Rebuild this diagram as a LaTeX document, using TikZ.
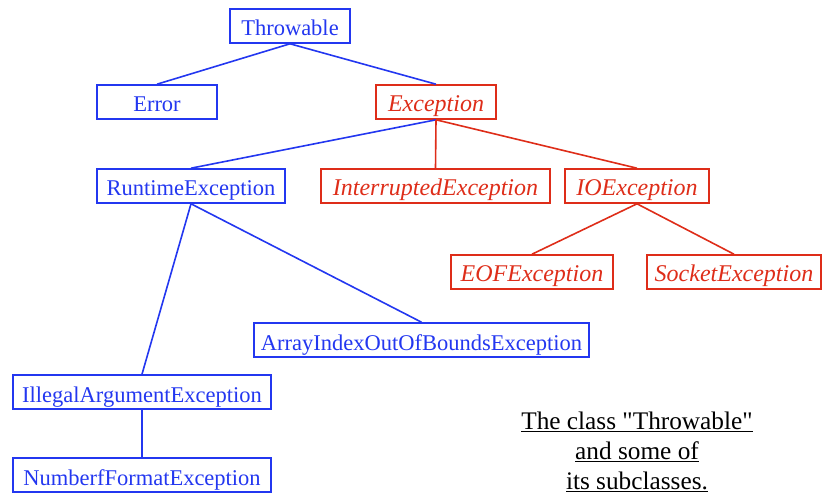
\documentclass[tikz,border=0pt]{standalone}
\usepackage{fontspec}
\setmainfont{Liberation Serif}
\definecolor{jblue}{RGB}{35,55,240}
\definecolor{jred}{RGB}{222,45,25}
\begin{document}
\begin{tikzpicture}[x=1pt,y=-1pt,
  cls/.style={draw, line width=1.6pt, inner sep=0pt, minimum height=34pt,
    text height=20pt, text depth=0pt,
    font=\fontsize{22.5}{26}\selectfont, anchor=center},
  bcls/.style={cls, draw=jblue, text=jblue},
  rcls/.style={cls, draw=jred, text=jred, font=\fontsize{24}{28}\selectfont\itshape},
  bl/.style={draw=jblue, line width=1.6pt},
  rl/.style={draw=jred, line width=1.6pt}]
\useasboundingbox (0,0) rectangle (822,494);
\node[bcls, minimum width=120pt] (thr) at (290,26) {Throwable};
\node[bcls, minimum width=120pt] (err) at (157,102) {Error};
\node[rcls, minimum width=120pt] (exc) at (436,102) {Exception};
\node[bcls, minimum width=188pt] (rte) at (191,186) {RuntimeException};
\node[rcls, minimum width=229pt] (int) at (435.5,186) {InterruptedException};
\node[rcls, minimum width=144pt] (ioe) at (637,186) {IOException};
\node[rcls, minimum width=162pt] (eof) at (532,272) {EOFException};
\node[rcls, minimum width=174pt] (soc) at (734,272) {SocketException};
\node[bcls, minimum width=335pt] (aio) at (421.5,340) {ArrayIndexOutOfBoundsException};
\node[bcls, minimum width=258pt] (iae) at (142,392) {IllegalArgumentException};
\node[bcls, minimum width=258pt] (nfe) at (142,475) {NumberfFormatException};
\node[align=center, font=\fontsize{25.3}{30}\selectfont, inner sep=0pt] (cap) at (637,452)
  {\underline{The class \textquotedbl Throwable\textquotedbl}\\ \underline{and some of}\\ \underline{its subclasses.}};
\draw[bl] (thr.south) -- (err.north);
\draw[bl] (thr.south) -- (exc.north);
\draw[bl] (exc.south) -- (rte.north);
\draw[rl] (exc.south) -- (int.north);
\draw[rl] (exc.south) -- (ioe.north);
\draw[rl] (ioe.south) -- (eof.north);
\draw[rl] (ioe.south) -- (soc.north);
\draw[bl] (rte.south) -- (iae.north);
\draw[bl] (rte.south) -- (aio.north);
\draw[bl] (iae.south) -- (nfe.north);
\end{tikzpicture}
\end{document}
